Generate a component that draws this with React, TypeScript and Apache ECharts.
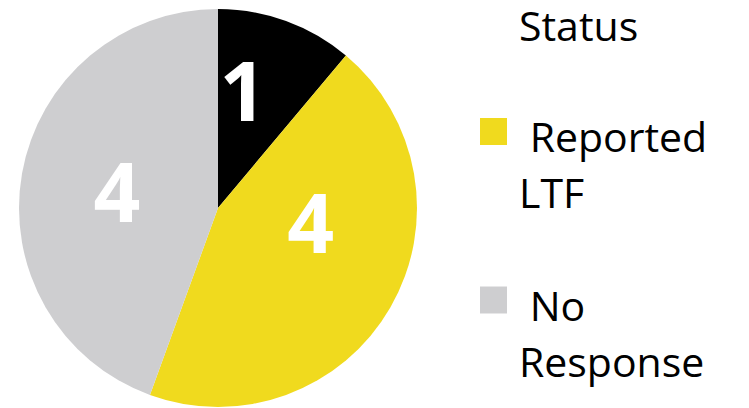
import React, { useEffect, useRef } from "react";
import * as echarts from "echarts";

const categories = ["Status", "Reported LTF", "No Response"];
const values = [1, 4, 4];
const colors = ["#000000", "#F0DA1E", "#CECED0"];
const legendItems = ["Reported LTF", "No Response"];
const legendLines: Record<string, string[]> = {
  "Reported LTF": [" Reported", "LTF"],
  "No Response": [" No", "Response"],
};
const labelOffsets = [[-10, -23], [4, -38], [0, 0]];

export default function App() {
  const ref = useRef<HTMLDivElement>(null);
  useEffect(() => {
    const chart = echarts.init(ref.current!, null, { renderer: "svg" });
    chart.setOption({
      animation: false,
      backgroundColor: "#ffffff",
      textStyle: { fontFamily: "Open Sans" },
      legend: {
        data: legendItems,
        orient: "vertical",
        left: 480,
        top: 55,
        padding: 0,
        itemWidth: 27,
        itemHeight: 27,
        itemGap: 11,
        icon: "rect",
        selectedMode: false,
        formatter: (n: string) => {
          const lines = legendLines[n] ?? [n];
          return ["{g| }", ...lines.map((l) => `{t|${l}}`)].join("\n");
        },
        textStyle: {
          fontFamily: "Open Sans",
          fontSize: 41,
          color: "#000000",
          padding: [0, 0, 0, 7],
          rich: {
            g: { fontSize: 41, lineHeight: 65, fontFamily: "Open Sans" },
            t: { fontSize: 41, lineHeight: 56, fontFamily: "Open Sans", color: "#000000" },
          },
        },
      },
      graphic: [
        {
          type: "text",
          left: 519,
          top: 4,
          style: {
            text: categories[0],
            fontFamily: "Open Sans",
            fontSize: 41,
            fill: "#000000",
          },
        },
      ],
      series: [
        {
          type: "pie",
          center: [218, 208],
          radius: 199,
          startAngle: 90,
          clockwise: true,
          label: {
            show: true,
            position: "inside",
            color: "#ffffff",
            fontFamily: "Open Sans",
            fontWeight: "bold",
            fontSize: 82,
            formatter: "{c}",
          },
          labelLine: { show: false },
          emphasis: { disabled: true },
          data: categories.map((c, i) => ({
            name: c,
            value: values[i],
            itemStyle: { color: colors[i] },
            label: { offset: labelOffsets[i] },
          })),
        },
      ],
    });
    return () => chart.dispose();
  }, []);
  return (
    <div
      ref={ref}
      style={{ position: "fixed", left: 0, top: 0, width: 749, height: 408 }}
    />
  );
}
